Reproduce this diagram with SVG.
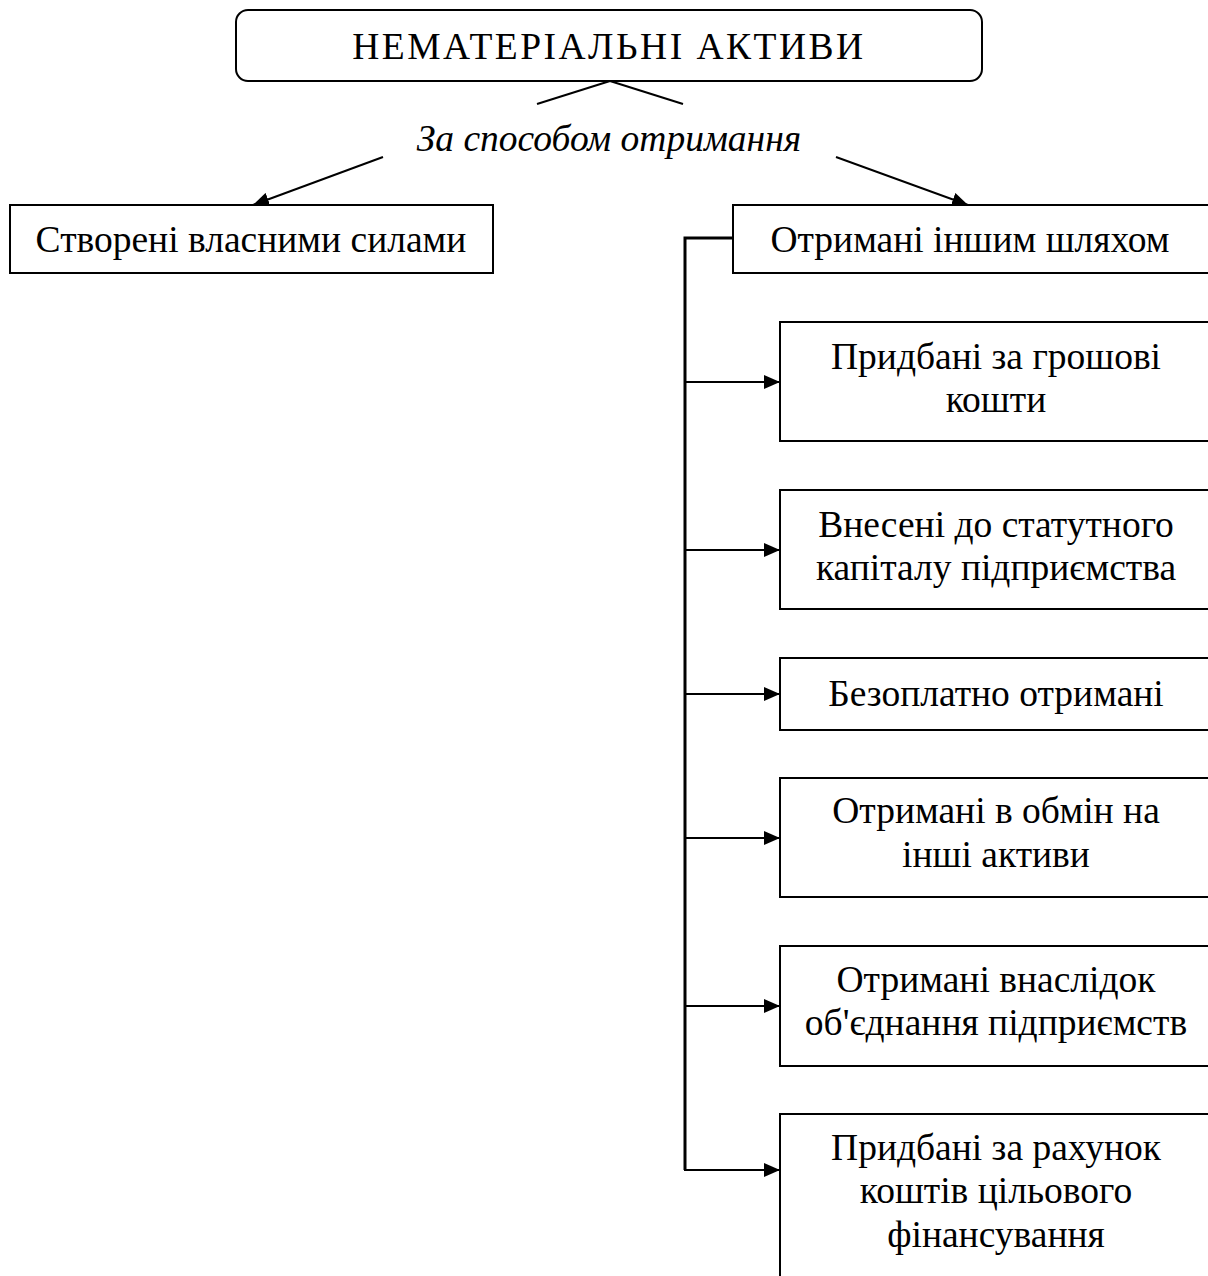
<svg xmlns="http://www.w3.org/2000/svg" width="1208" height="1276" viewBox="0 0 1208 1276">
<defs>
<style>
.box{fill:#fff;stroke:#000;stroke-width:2}
.t{font-family:"Liberation Serif","Times New Roman",serif;font-size:37.5px;fill:#000;text-anchor:middle}
.ln{fill:none;stroke:#000;stroke-width:2}
.bus{fill:none;stroke:#000;stroke-width:3}
</style>
<marker id="ah" markerWidth="16" markerHeight="14" refX="16" refY="7" orient="auto" markerUnits="userSpaceOnUse">
<path d="M0,0 L16,7 L0,14 Z" fill="#000"/>
</marker>
</defs>
<rect width="1208" height="1276" fill="#fff"/>
<g id="connectors">
<line class="ln" x1="537" y1="104" x2="610" y2="81"/>
<line class="ln" x1="610" y1="81" x2="683" y2="104"/>
<line class="ln" x1="383" y1="157" x2="253" y2="205" marker-end="url(#ah)"/>
<line class="ln" x1="836" y1="157" x2="968" y2="205" marker-end="url(#ah)"/>
<polyline class="bus" points="733,238 685,238 685,1170"/>
<line class="ln" x1="685" y1="382" x2="780" y2="382" marker-end="url(#ah)"/>
<line class="ln" x1="685" y1="550" x2="780" y2="550" marker-end="url(#ah)"/>
<line class="ln" x1="685" y1="694" x2="780" y2="694" marker-end="url(#ah)"/>
<line class="ln" x1="685" y1="838" x2="780" y2="838" marker-end="url(#ah)"/>
<line class="ln" x1="685" y1="1006" x2="780" y2="1006" marker-end="url(#ah)"/>
<line class="ln" x1="684" y1="1170" x2="780" y2="1170" marker-end="url(#ah)"/>
</g>
<g id="root">
<rect class="box" x="236" y="10" width="746" height="71" rx="12"/>
<text class="t" x="609" y="59" letter-spacing="2.5">НЕМАТЕРІАЛЬНІ АКТИВИ</text>
</g>
<g id="label">
<text class="t" x="609" y="151" font-style="italic">За способом отримання</text>
</g>
<g id="own">
<rect class="box" x="10" y="205" width="483" height="68"/>
<text class="t" x="251" y="252">Створені власними силами</text>
</g>
<g id="other">
<rect class="box" x="733" y="205" width="485" height="68"/>
<text class="t" x="970" y="252">Отримані іншим шляхом</text>
</g>
<g id="n1">
<rect class="box" x="780" y="322" width="440" height="119"/>
<text class="t" x="996" y="369">Придбані за грошові</text>
<text class="t" x="996" y="412">кошти</text>
</g>
<g id="n2">
<rect class="box" x="780" y="490" width="440" height="119"/>
<text class="t" x="996" y="537">Внесені до статутного</text>
<text class="t" x="996" y="580">капіталу підприємства</text>
</g>
<g id="n3">
<rect class="box" x="780" y="658" width="440" height="72"/>
<text class="t" x="996" y="706">Безоплатно отримані</text>
</g>
<g id="n4">
<rect class="box" x="780" y="778" width="440" height="119"/>
<text class="t" x="996" y="823">Отримані в обмін на</text>
<text class="t" x="996" y="867">інші активи</text>
</g>
<g id="n5">
<rect class="box" x="780" y="946" width="440" height="120"/>
<text class="t" x="996" y="992">Отримані внаслідок</text>
<text class="t" x="996" y="1035">об'єднання підприємств</text>
</g>
<g id="n6">
<rect class="box" x="780" y="1114" width="440" height="180"/>
<text class="t" x="996" y="1160">Придбані за рахунок</text>
<text class="t" x="996" y="1203">коштів цільового</text>
<text class="t" x="996" y="1247">фінансування</text>
</g>
</svg>
